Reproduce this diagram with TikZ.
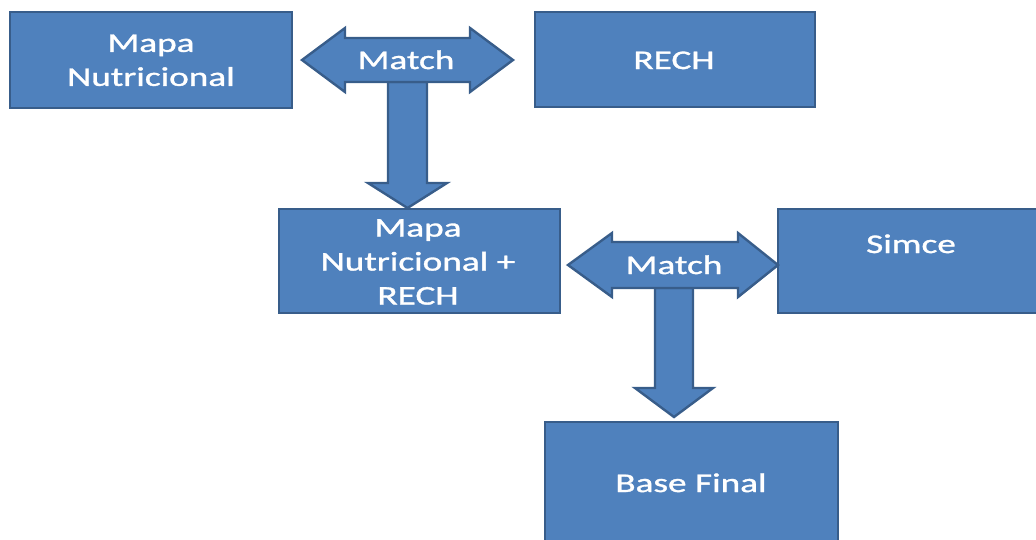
\documentclass[tikz,border=0pt]{standalone}
\usepackage{fontspec}
\setmainfont[FakeStretch=1.38,FakeBold=1.2]{Carlito}
\definecolor{boxfill}{HTML}{4F81BD}
\definecolor{boxline}{HTML}{385D8A}
\tikzset{
  blockbox/.style={draw=boxline, fill=boxfill, line width=2.4pt, rectangle, inner sep=0pt},
  blockarrow/.style={draw=boxline, fill=boxfill, line width=2.4pt, line join=miter},
  lbl/.style={text=white, font=\fontsize{27}{34}\selectfont, align=center, inner sep=0pt},
}
\begin{document}
\begin{tikzpicture}[x=1pt, y=-1pt]
\useasboundingbox (0,0) rectangle (1036,539);
% boxes
\node[blockbox, minimum width=282pt, minimum height=96pt] (b1) at (151,60) {};
\node[blockbox, minimum width=280pt, minimum height=95pt] (b2) at (675,59.5) {};
\node[blockbox, minimum width=281pt, minimum height=104pt] (b3) at (419.5,261) {};
\node[blockbox, minimum width=267pt, minimum height=104pt] (b4) at (911.5,261) {};
\node[blockbox, minimum width=293pt, minimum height=128pt] (b5) at (691.5,486) {};
% down arrow 1
\coordinate (d1tip) at (407.5,208);
\draw[blockarrow] (388,82) -- (427,82) -- (427,183) -- (447,183) -- (d1tip) -- (368,183) -- (388,183) -- cycle;
% double arrow 1
\coordinate (m1l) at (302,60);
\coordinate (m1r) at (513,60);
\draw[blockarrow] (m1l) -- (345,28) -- (345,38) -- (470,38) -- (470,28) -- (m1r) -- (470,92) -- (470,82) -- (345,82) -- (345,92) -- cycle;
% down arrow 2
\coordinate (d2tip) at (674,417);
\draw[blockarrow] (655,288) -- (693,288) -- (693,388) -- (713,388) -- (d2tip) -- (635,388) -- (655,388) -- cycle;
% double arrow 2
\coordinate (m2l) at (568,265);
\coordinate (m2r) at (778,265);
\draw[blockarrow] (m2l) -- (612,233) -- (612,242) -- (738,242) -- (738,233) -- (m2r) -- (738,297) -- (738,288) -- (612,288) -- (612,297) -- cycle;
% labels
\node[lbl] (t1) at (151,60.3) {Mapa\\Nutricional};
\node[lbl, anchor=base] (t2) at (674,69) {RECH};
\node[lbl, anchor=base] (tm1) at (406,69) {Match};
\node[lbl] (t3) at (418,262) {Mapa\\Nutricional +\\RECH};
\node[lbl, anchor=base] (tm2) at (674,274) {Match};
\node[lbl, anchor=base] (t4) at (911,253) {Simce};
\node[lbl, anchor=base] (t5) at (691,492) {Base Final};
\end{tikzpicture}
\end{document}
